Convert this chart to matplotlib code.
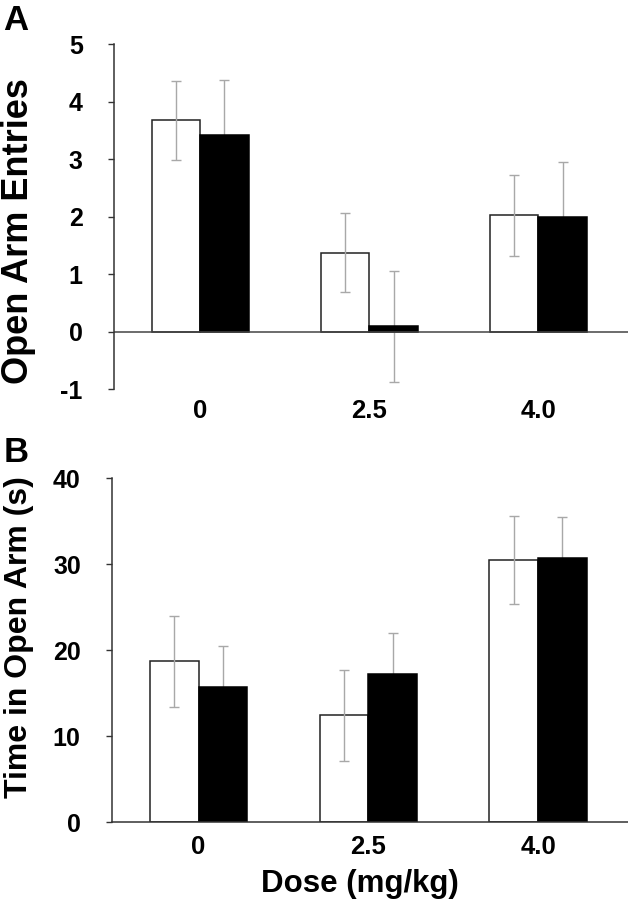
# -*- coding: utf-8 -*-

"""
Open arm entries / time in open arm, two bar panels
"""

import numpy as np
import matplotlib
matplotlib.use("Agg")
import matplotlib.pyplot as plt

# Data
doses = ["0", "2.5", "4.0"]

entriesOpen = [3.67, 1.37, 2.02]      # white bars
entriesOpenErr = [0.69, 0.69, 0.70]
entriesFilled = [3.41, 0.09, 2.00]    # black bars
entriesFilledErr = [0.96, 0.97, 0.95]

timeOpen = [18.7, 12.4, 30.5]
timeOpenErr = [5.3, 5.25, 5.1]
timeFilled = [15.7, 17.2, 30.7]
timeFilledErr = [4.8, 4.8, 4.8]

entriesTicks = [-1, 0, 1, 2, 3, 4, 5]
timeTicks = [0, 10, 20, 30, 40]


def drawBars(ax, openVals, openErr, filledVals, filledErr, width = 0.287):
    x = np.arange(len(doses))
    ax.bar(x - width / 2, openVals, width, color = "white", edgecolor = "#222222",
           linewidth = 1.1, zorder = 2)
    ax.bar(x + width / 2, filledVals, width, color = "black", edgecolor = "black",
           linewidth = 1.1, zorder = 2)
    # white bar errors show through the bar, black ones sit behind it
    ax.errorbar(x - width / 2, openVals, yerr = openErr, fmt = "none", ecolor = "#a8a8a8",
                elinewidth = 1.0, capsize = 3.5, capthick = 1.0, zorder = 3)
    ax.errorbar(x + width / 2, filledVals, yerr = filledErr, fmt = "none", ecolor = "#a8a8a8",
                elinewidth = 1.0, capsize = 3.5, capthick = 1.0, zorder = 1)
    ax.set_xticks(x)
    ax.set_xticklabels(doses)
    ax.set_xlim(-0.51, 2.53)


def styleAxis(ax, pad):
    for side in ["top", "right"]:
        ax.spines[side].set_visible(False)
    ax.spines["left"].set_color("#333333")
    ax.spines["left"].set_linewidth(1.1)
    ax.tick_params(axis = "y", direction = "out", length = 4.5, width = 1.0,
                   color = "#333333", labelsize = 18, pad = 18)
    ax.tick_params(axis = "x", length = 0, labelsize = 18.5, pad = pad)
    for lab in ax.get_xticklabels() + ax.get_yticklabels():
        lab.set_fontweight("bold")


def main():
    plt.rcParams["font.family"] = ["Liberation Sans", "DejaVu Sans"]
    plt.rcParams["font.weight"] = "bold"
    plt.rcParams["axes.unicode_minus"] = False

    W, H = 628, 900
    fig = plt.figure(figsize = (W / 100, H / 100), dpi = 100)

    # Panel A
    axA = fig.add_axes([114 / W, 1 - 389 / H, (W - 114) / W, (389 - 44) / H])
    drawBars(axA, entriesOpen, entriesOpenErr, entriesFilled, entriesFilledErr)
    axA.set_ylim(-1, 5)
    axA.set_yticks(entriesTicks)
    axA.spines["bottom"].set_visible(False)
    axA.axhline(0, color = "#444444", linewidth = 1.1, zorder = 2.5)
    styleAxis(axA, pad = 7)

    # Panel B
    axB = fig.add_axes([112 / W, 1 - 822 / H, (W - 112) / W, (822 - 478) / H])
    drawBars(axB, timeOpen, timeOpenErr, timeFilled, timeFilledErr)
    axB.set_ylim(0, 40)
    axB.set_yticks(timeTicks)
    axB.spines["bottom"].set_color("#333333")
    axB.spines["bottom"].set_linewidth(1.1)
    styleAxis(axB, pad = 9)

    # Labels
    fig.text(19 / W, 1 - 231 / H, "Open Arm Entries", rotation = 90, ha = "center",
             va = "center", fontsize = 26, fontweight = "bold")
    fig.text(19 / W, 1 - 637 / H, "Time in Open Arm (s)", rotation = 90, ha = "center",
             va = "center", fontsize = 23, fontweight = "bold")
    fig.text(360 / W, 1 - 884 / H, "Dose (mg/kg)", ha = "center", va = "center",
             fontsize = 22.5, fontweight = "bold")

    fig.text(3 / W, 1 - 21 / H, "A", ha = "left", va = "center", fontsize = 25,
             fontweight = "bold")
    fig.text(4 / W, 1 - 453 / H, "B", ha = "left", va = "center", fontsize = 25,
             fontweight = "bold")

    plt.savefig("out.png", dpi = 100)


if __name__ == "__main__":

    main()
